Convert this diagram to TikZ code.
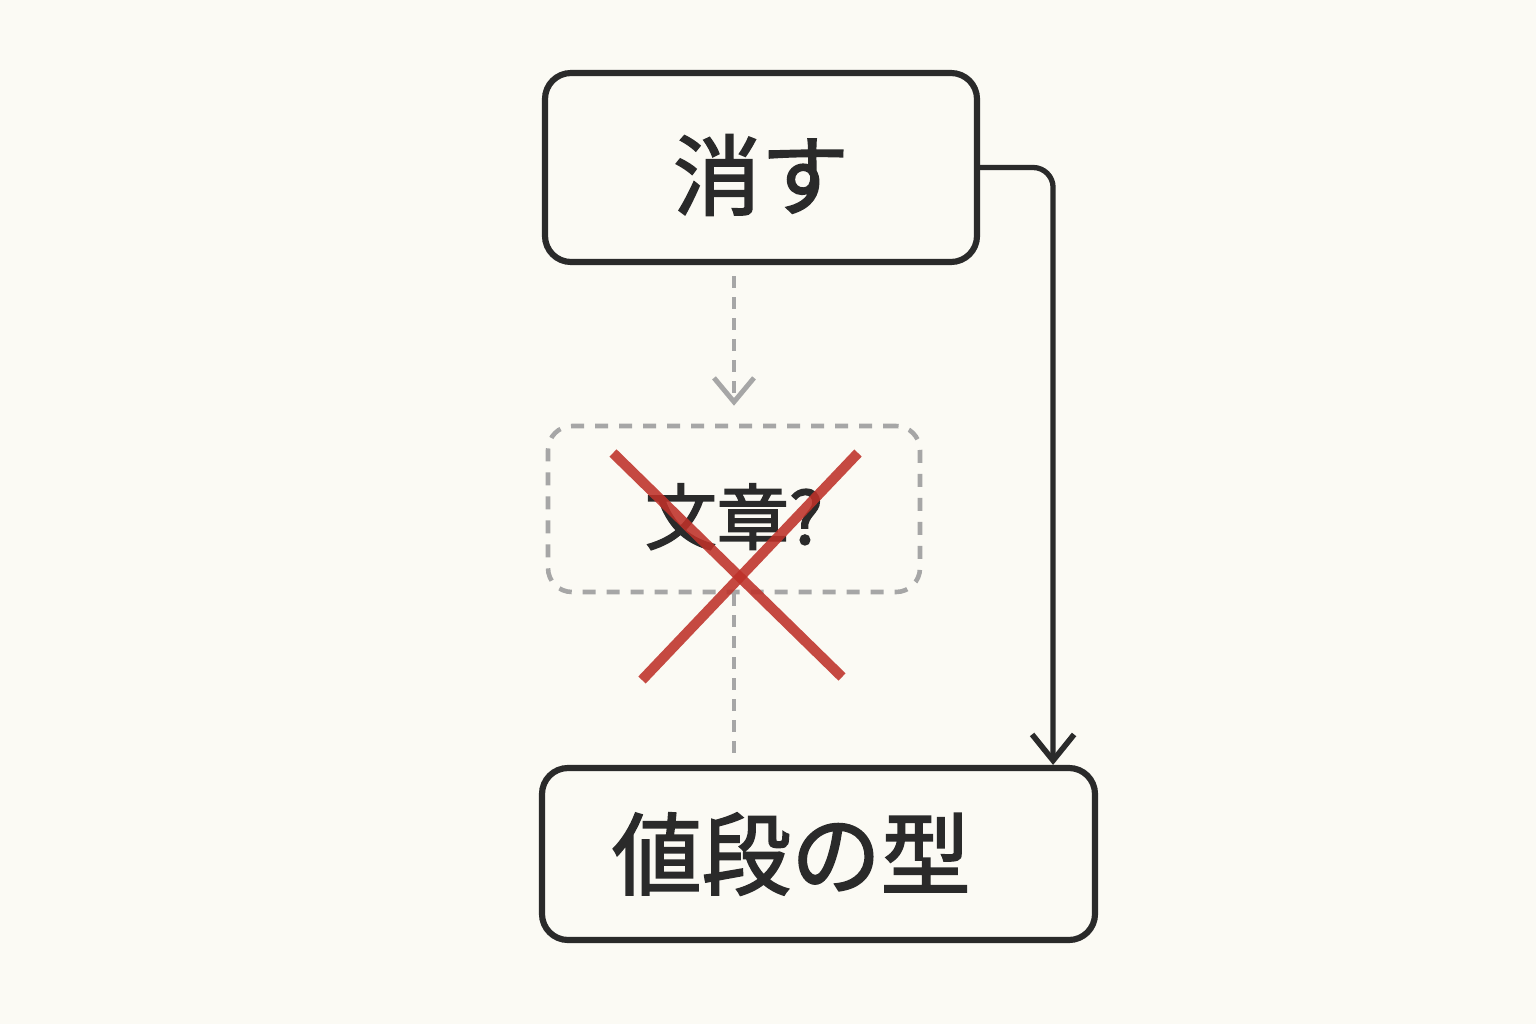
\documentclass[tikz,border=0pt]{standalone}
\usepackage{fontspec}
\usepackage{tikz}
\usetikzlibrary{arrows.meta, positioning}
\newfontfamily\jpfont[FakeBold=2]{Noto Sans CJK JP}
\definecolor{paper}{HTML}{FBFAF4}
\definecolor{ink}{HTML}{2A2A2A}
\definecolor{ghost}{HTML}{A6A6A6}
\definecolor{crossred}{HTML}{BE3129}

\begin{document}
\begin{tikzpicture}[
    box/.style={draw=ink, line width=1.75pt, rounded corners=0.26cm, text=ink},
    ghostbox/.style={draw=ghost, line width=1.3pt, dash pattern=on 0.13cm off 0.11cm, rounded corners=0.24cm, text=ink},
    ghostline/.style={draw=ghost, line width=1.3pt, dash pattern=on 0.12cm off 0.09cm},
    flow/.style={draw=ink, line width=1.5pt, rounded corners=0.2cm, -{Straight Barb[length=0.26cm, width=0.42cm, line width=1.6pt]}},
    cross/.style={draw=crossred, line width=2.9pt, opacity=0.88}
  ]

  % Paper and frame
  \fill[paper] (0,0) rectangle (15.36,10.24);
  \useasboundingbox (0,0) rectangle (15.36,10.24);

  % Boxes
  \node[box, minimum width=4.32cm, minimum height=1.89cm, text height=0.85cm, text depth=0.03cm, font=\jpfont\fontsize{25}{30}\selectfont] (erase) at (7.61,8.565) {消す};
  \node[ghostbox, minimum width=3.72cm, minimum height=1.66cm, text height=0.70cm, text depth=0.0cm, font=\jpfont\fontsize{20.5}{24}\selectfont] (guess) at (7.34,5.15) {文章?};
  \node[box, minimum height=1.72cm, inner xsep=0.7cm, text width=4.13cm, align=left, font=\jpfont\fontsize{25.5}{30}\selectfont] (price) at (8.185,1.70) {値段の型};

  % Connectors
  \draw[ghostline, -{Straight Barb[length=0.24cm, width=0.40cm, line width=1.4pt]}, shorten <=0.11cm, shorten >=0.18cm] (erase.south -| guess.north) -- (guess.north);
  \draw[ghostline, shorten >=0.08cm] (guess.south) -- (price.north -| guess.south);
  \draw[flow] (erase.east) -| ([xshift=-0.45cm]price.north east);

  % Cross over the guess
  \draw[cross] (6.13,5.71) -- (8.42,3.47);
  \draw[cross] (8.58,5.71) -- (6.42,3.44);

\end{tikzpicture}
\end{document}
